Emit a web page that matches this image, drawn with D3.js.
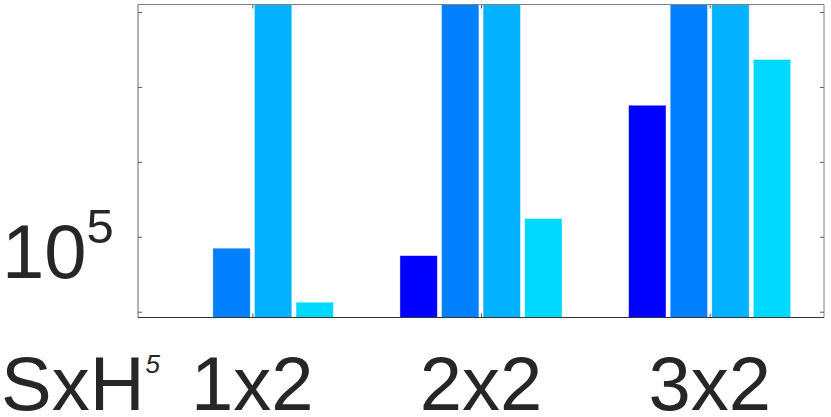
<!DOCTYPE html>
<html>
<head>
<meta charset="utf-8">
<script src="https://cdn.jsdelivr.net/npm/d3@7"></script>
<style>
  body { margin: 0; background: #fff; }
  text { font-family: Helvetica, "Liberation Sans", Arial, sans-serif; fill: #262626; }
</style>
</head>
<body>
<svg id="chart"></svg>
<script>
let W = 831, H = 417

// data
let categories = ['1x2', '2x2', '3x2']
let series1 = [null, 5.6e4, 5.7e6]
let series2 = [7.05e4, 1e9, 1e9]
let series3 = [1e9, 1e9, 1e9]
let series4 = [1.34e4, 1.75e5, 2.33e7]
let seriesColors = ['#0000ff', '#0080ff', '#00b2ff', '#00d9ff']
let yTicks = [1e4, 1e5, 1e6, 1e7, 1e8]

let allSeries = [series1, series2, series3, series4]

let svg = d3.select('#chart').attr('width', W).attr('height', H)

let plotL = 138, plotR = 824, plotT = 4.5, plotB = 317.5

let x = d3.scaleLinear().domain([0.5, 3.5]).range([plotL, plotR])
let y = d3.scaleLog().domain([Math.pow(10, 3.9225), Math.pow(10, 8.1)]).range([plotB, plotT])

svg.append('clipPath').attr('id', 'plot-clip')
  .append('rect').attr('x', plotL).attr('y', plotT).attr('width', plotR - plotL).attr('height', plotB - plotT)

// bars
let groupWidth = 4 / 5.5
let step = (x(1 + groupWidth) - x(1)) / 4
let barW = step * 0.9

let bars = []
allSeries.forEach((s, si) => {
  s.forEach((v, ci) => {
    if (v != null) bars.push({ si: si, ci: ci, v: v })
  })
})

svg.append('g').attr('clip-path', 'url(#plot-clip)')
  .selectAll('rect')
  .data(bars)
  .enter()
  .append('rect')
  .attr('x', d => x(d.ci + 1) + (d.si - 1.5) * step - barW / 2)
  .attr('width', barW)
  .attr('y', d => y(d.v))
  .attr('height', d => plotB - y(d.v))
  .attr('fill', d => seriesColors[d.si])
  .attr('stroke', 'rgba(255,255,255,0.55)')
  .attr('stroke-width', 0.8)

// axes (ticks point inward)
let yl = svg.append('g').attr('transform', `translate(${plotL},0)`)
  .call(d3.axisLeft(y).tickValues(yTicks).tickSize(-4).tickFormat(''))
let yr = svg.append('g').attr('transform', `translate(${plotR},0)`)
  .call(d3.axisRight(y).tickValues(yTicks).tickSize(-4).tickFormat(''))
let xb = svg.append('g').attr('transform', `translate(0,${plotB})`)
  .call(d3.axisBottom(x).tickValues([1, 2, 3]).tickSize(-4).tickFormat(''))
let xt = svg.append('g').attr('transform', `translate(0,${plotT})`)
  .call(d3.axisTop(x).tickValues([1, 2, 3]).tickSize(-4).tickFormat(''))

;[yl, yr, xb, xt].forEach(g => {
  g.select('.domain').remove()
  g.selectAll('.tick line').attr('stroke', '#555').attr('stroke-width', 1)
})

// box
svg.append('line').attr('x1', plotL).attr('x2', plotR).attr('y1', plotT).attr('y2', plotT).attr('stroke', '#808080')
svg.append('line').attr('x1', plotR).attr('x2', plotR).attr('y1', plotT).attr('y2', plotB).attr('stroke', '#808080')
svg.append('line').attr('x1', plotL).attr('x2', plotL).attr('y1', plotT).attr('y2', plotB).attr('stroke', '#666')
svg.append('line').attr('x1', plotL).attr('x2', plotR).attr('y1', plotB).attr('y2', plotB).attr('stroke', '#333')

// y tick label 10^5
let yLab = svg.append('text').attr('x', 2).attr('y', y(1e5) + 41).attr('font-size', 76)
yLab.append('tspan').text('10')
yLab.append('tspan').attr('font-size', 49).attr('dy', -35).text('5')

// x tick labels
svg.selectAll('.xlab')
  .data(categories)
  .enter()
  .append('text')
  .attr('class', 'xlab')
  .attr('x', (d, i) => x(i + 1))
  .attr('y', 410)
  .attr('text-anchor', 'middle')
  .attr('font-size', 76)
  .text(d => d)

// axis name
let xName = svg.append('text').attr('x', 1).attr('y', 410).attr('font-size', 76)
xName.append('tspan').text('SxH')
xName.append('tspan').attr('font-size', 26).attr('font-style', 'italic').attr('dx', 1).attr('dy', -37).text('5')
</script>
</body>
</html>
